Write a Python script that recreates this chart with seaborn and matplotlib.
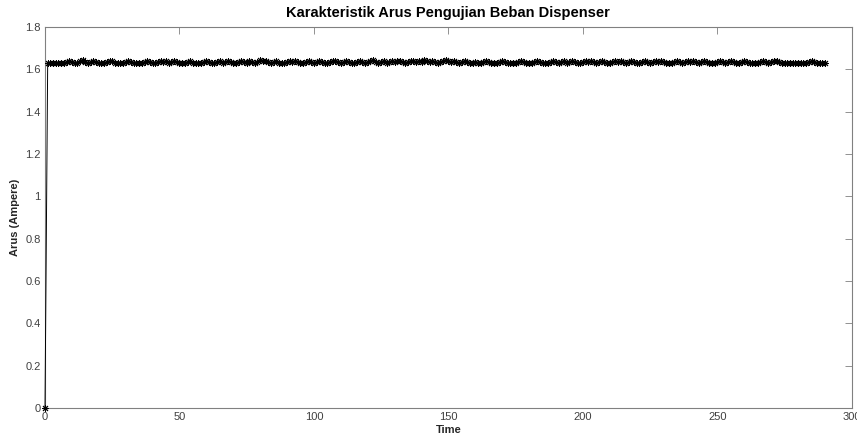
import numpy as np
import pandas as pd
import matplotlib
matplotlib.use('Agg')
import matplotlib.pyplot as plt
import seaborn as sns

# Data arus (Ampere) per detik
arus = [
    0.0,
    1.63, 1.63, 1.63, 1.63, 1.63, 1.63, 1.63, 1.635, 1.64, 1.635,
    1.63, 1.63, 1.64, 1.645, 1.635, 1.63, 1.635, 1.64, 1.635, 1.63,
    1.63, 1.63, 1.635, 1.64, 1.64, 1.63, 1.63, 1.63, 1.63, 1.635,
    1.64, 1.635, 1.63, 1.63, 1.63, 1.63, 1.635, 1.64, 1.635, 1.63,
    1.63, 1.635, 1.64, 1.635, 1.64, 1.63, 1.635, 1.64, 1.635, 1.63,
    1.63, 1.63, 1.635, 1.64, 1.63, 1.63, 1.63, 1.63, 1.635, 1.64,
    1.635, 1.63, 1.63, 1.635, 1.64, 1.63, 1.635, 1.64, 1.635, 1.63,
    1.63, 1.635, 1.64, 1.635, 1.63, 1.64, 1.635, 1.63, 1.635, 1.645,
    1.64, 1.64, 1.635, 1.63, 1.635, 1.64, 1.63, 1.63, 1.63, 1.635,
    1.64, 1.635, 1.64, 1.635, 1.63, 1.63, 1.635, 1.64, 1.635, 1.63,
    1.635, 1.64, 1.635, 1.63, 1.63, 1.635, 1.64, 1.64, 1.635, 1.63,
    1.635, 1.64, 1.635, 1.63, 1.63, 1.635, 1.64, 1.635, 1.63, 1.635,
    1.64, 1.645, 1.635, 1.63, 1.635, 1.64, 1.63, 1.635, 1.64, 1.635,
    1.64, 1.64, 1.635, 1.63, 1.635, 1.64, 1.64, 1.635, 1.64, 1.635,
    1.645, 1.64, 1.635, 1.64, 1.635, 1.63, 1.635, 1.64, 1.645, 1.64,
    1.635, 1.64, 1.635, 1.63, 1.635, 1.64, 1.635, 1.63, 1.63, 1.635,
    1.63, 1.63, 1.635, 1.64, 1.635, 1.63, 1.63, 1.63, 1.635, 1.64,
    1.635, 1.63, 1.63, 1.63, 1.63, 1.635, 1.64, 1.635, 1.63, 1.63,
    1.63, 1.635, 1.64, 1.635, 1.63, 1.63, 1.63, 1.635, 1.64, 1.635,
    1.63, 1.635, 1.64, 1.63, 1.635, 1.64, 1.635, 1.63, 1.63, 1.635,
    1.64, 1.635, 1.64, 1.635, 1.63, 1.635, 1.64, 1.635, 1.63, 1.63,
    1.635, 1.64, 1.635, 1.64, 1.635, 1.63, 1.635, 1.64, 1.635, 1.63,
    1.63, 1.635, 1.64, 1.635, 1.63, 1.635, 1.64, 1.635, 1.64, 1.635,
    1.63, 1.63, 1.63, 1.635, 1.64, 1.635, 1.63, 1.635, 1.64, 1.635,
    1.64, 1.635, 1.63, 1.635, 1.64, 1.635, 1.63, 1.63, 1.63, 1.635,
    1.64, 1.635, 1.63, 1.635, 1.64, 1.635, 1.63, 1.63, 1.635, 1.64,
    1.635, 1.63, 1.63, 1.63, 1.63, 1.635, 1.64, 1.635, 1.63, 1.635,
    1.64, 1.64, 1.635, 1.63, 1.63, 1.63, 1.63, 1.63, 1.63, 1.63,
    1.63, 1.63, 1.63, 1.635, 1.64, 1.635, 1.63, 1.63, 1.63, 1.63,
]
time = np.arange(len(arus))

df = pd.DataFrame({'Time': time, 'Arus': arus})

sns.set_style('white')
plt.rcParams['font.family'] = ['Liberation Sans', 'DejaVu Sans']

fig = plt.figure(figsize=(8.57, 4.41), dpi=100)
ax = fig.add_axes([0.0525, 0.075, 0.9415, 0.8638])

# marker asterisk ala MATLAB (8 lengan)
sns.lineplot(data=df, x='Time', y='Arus', ax=ax, color='black',
             linewidth=0.7, marker=(8, 2, 0), markersize=5,
             markeredgecolor='black', markeredgewidth=0.7, clip_on=False,
             zorder=3)

ax.set_xlim(0, 300)
ax.set_ylim(0, 1.8)
ax.set_xticks(np.arange(0, 301, 50))
ax.set_yticks(np.arange(0, 1.81, 0.2))
ax.set_yticklabels(['0', '0.2', '0.4', '0.6', '0.8', '1', '1.2', '1.4', '1.6', '1.8'])

ax.set_title('Karakteristik Arus Pengujian Beban Dispenser',
             fontsize=10.5, fontweight='bold', color='black', pad=7)
ax.set_xlabel('Time', fontsize=8, fontweight='bold', color='#262626', labelpad=2)
ax.set_ylabel('Arus (Ampere)', fontsize=8, fontweight='bold', color='#262626',
              labelpad=4)

for sp in ax.spines.values():
    sp.set_color('#808080')
    sp.set_linewidth(0.8)
ax.tick_params(direction='in', length=5, width=0.6, colors='#808080',
               labelcolor='#404040', labelsize=8, top=True, right=True,
               pad=3)

plt.savefig('out.png', dpi=100)
